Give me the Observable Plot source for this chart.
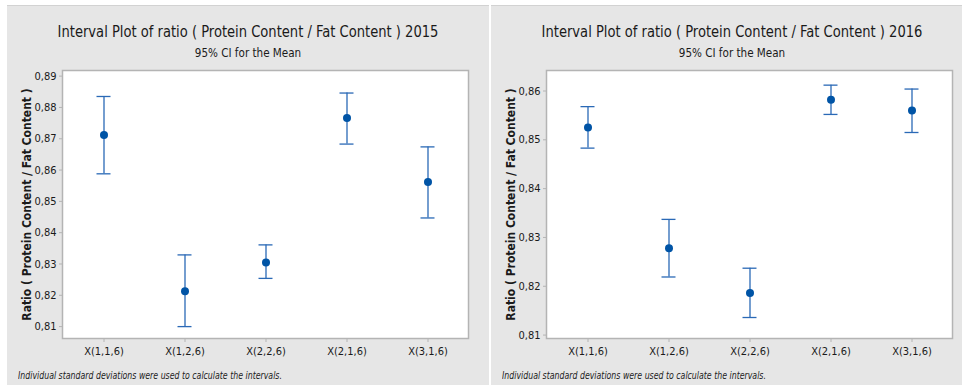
<!DOCTYPE html>
<html>
<head>
<meta charset="utf-8">
<script src="https://cdn.jsdelivr.net/npm/d3@7"></script>
<script src="https://cdn.jsdelivr.net/npm/@observablehq/plot@0.6"></script>
<style>
  html, body { margin: 0; padding: 0; background: #ffffff; width: 962px; height: 385px; overflow: hidden; }
  body { position: relative; font-family: "Liberation Sans Narrow", "DejaVu Sans Condensed", "Liberation Sans", sans-serif; }
  .panel { position: absolute; top: 5px; width: 482px; height: 380px; background: #e6e6e6; border-top: 1px solid #d2d2d2; box-sizing: border-box; overflow: hidden; }
  .title { position: absolute; top: 16px; left: 0; width: 482px; text-align: center; font-size: 16px; color: #1a1a1a; white-space: nowrap; transform: scaleX(0.91); transform-origin: 241px 0; }
  .subtitle { position: absolute; top: 39px; left: 0; width: 482px; text-align: center; font-size: 13px; color: #1a1a1a; white-space: nowrap; transform: scaleX(0.89); transform-origin: 241px 0; }
  .plot { position: absolute; top: 49px; left: 0; }
  .note { position: absolute; top: 364px; left: 11px; font-size: 10px; font-style: italic; color: #222; white-space: nowrap; transform: scaleX(0.87); transform-origin: 0 0; }
</style>
</head>
<body>
<div id="p1" class="panel" style="left:7px"></div>
<div id="p2" class="panel" style="left:491px"></div>
<script>
const groups = ["X(1,1,6)", "X(1,2,6)", "X(2,2,6)", "X(2,1,6)", "X(3,1,6)"];

const mean2015  = [0.8712, 0.8213, 0.8305, 0.8766, 0.8562];
const lower2015 = [0.8588, 0.8100, 0.8254, 0.8683, 0.8447];
const upper2015 = [0.8835, 0.8329, 0.8361, 0.8846, 0.8674];
const yTicks2015 = [0.81, 0.82, 0.83, 0.84, 0.85, 0.86, 0.87, 0.88, 0.89];
const yDomain2015 = [0.8062, 0.8918];

const mean2016  = [0.8525, 0.8278, 0.8186, 0.8582, 0.8560];
const lower2016 = [0.8483, 0.8219, 0.8136, 0.8552, 0.8515];
const upper2016 = [0.8568, 0.8337, 0.8237, 0.8612, 0.8604];
const yTicks2016 = [0.81, 0.82, 0.83, 0.84, 0.85, 0.86];
const yDomain2016 = [0.8093, 0.8642];

const titleText = "Interval Plot of ratio ( Protein Content / Fat Content ) ";
const subtitleText = "95% CI for the Mean";
const yLabel = "Ratio ( Protein Content / Fat Content )";
const noteText = "Individual standard deviations were used to calculate the intervals.";

function build(year, mean, lower, upper, yTicks, yDomain) {
  const data = groups.map((g, i) => ({g, m: mean[i], lo: lower[i], hi: upper[i]}));
  const fmt = d => d.toFixed(2).replace(".", ",");
  return Plot.plot({
    width: 482,
    height: 320,
    marginLeft: 55,
    marginRight: 21,
    marginTop: 15,
    marginBottom: 37,
    style: {background: "transparent", fontFamily: '"Liberation Sans Narrow", "DejaVu Sans Condensed", sans-serif', fontSize: "11px", color: "#1a1a1a"},
    x: {type: "band", domain: groups, padding: 0, label: null},
    y: {domain: yDomain, label: yLabel},
    marks: [
      Plot.frame({fill: "white", stroke: "#b4b4b4", strokeWidth: 1.5}),
      Plot.axisX({tickSize: 4, stroke: "#b4b4b4", tickPadding: 5, label: null, fontSize: 11}),
      Plot.axisY({ticks: yTicks, tickFormat: fmt, tickSize: 3, stroke: "#b4b4b4", tickPadding: 3, label: yLabel, labelAnchor: "center", labelArrow: "none", labelOffset: 40, fontSize: 11}),
      Plot.ruleX(data, {x: "g", y1: "lo", y2: "hi", stroke: "#2a69b6", strokeWidth: 1.3}),
      Plot.tickY(data, {x: "g", y: "hi", stroke: "#2a69b6", strokeWidth: 1.3, insetLeft: 33.5, insetRight: 33.5}),
      Plot.tickY(data, {x: "g", y: "lo", stroke: "#2a69b6", strokeWidth: 1.3, insetLeft: 33.5, insetRight: 33.5}),
      Plot.dot(data, {x: "g", y: "m", r: 4, fill: "#0054a6", stroke: "none"})
    ]
  });
}

function panel(id, year, mean, lower, upper, yTicks, yDomain) {
  const el = document.getElementById(id);
  const t = document.createElement("div"); t.className = "title"; t.textContent = titleText + year; el.appendChild(t);
  const s = document.createElement("div"); s.className = "subtitle"; s.textContent = subtitleText; el.appendChild(s);
  const p = document.createElement("div"); p.className = "plot"; p.appendChild(build(year, mean, lower, upper, yTicks, yDomain)); el.appendChild(p);
  const n = document.createElement("div"); n.className = "note"; n.textContent = noteText; el.appendChild(n);
}

panel("p1", "2015", mean2015, lower2015, upper2015, yTicks2015, yDomain2015);
panel("p2", "2016", mean2016, lower2016, upper2016, yTicks2016, yDomain2016);

// bold y label
document.querySelectorAll("svg [aria-label='y-axis label'] text").forEach(t => { t.setAttribute("font-weight", "bold"); t.setAttribute("font-size", "12"); });
</script>
</body>
</html>
